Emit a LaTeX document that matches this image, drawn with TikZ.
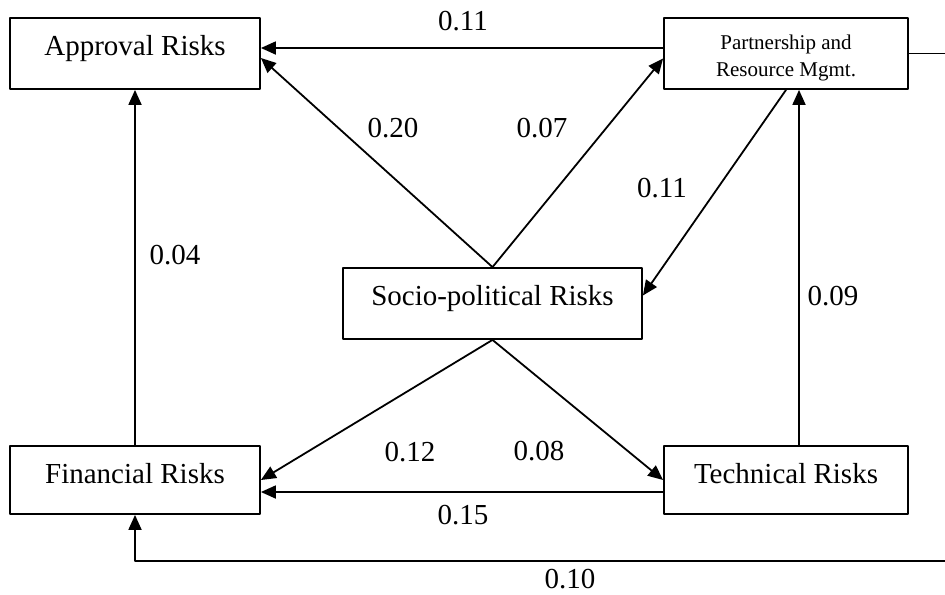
\documentclass[tikz,border=0pt]{standalone}
\usepackage{fontspec}
\setmainfont{Liberation Serif}
\usetikzlibrary{arrows.meta}
\begin{document}
\begin{tikzpicture}[x=0.5pt, y=-0.5pt, line join=round, font=\fontsize{14.5}{17}\selectfont,
	riskbox/.style={draw, line width=0.9pt, inner xsep=0pt, inner ysep=0pt, text height=18.5pt, text depth=17pt},
	arr/.style={line width=0.9pt, -{Triangle[length=7.5pt, width=6.5pt]}},
	wlabel/.style={inner sep=1pt}]
	\useasboundingbox (0,0) rectangle (945,594);
	% boxes
	\node[riskbox, minimum width=125pt] (appr) at (135,53.5) {Approval Risks};
	\node[riskbox, minimum width=122pt, align=center, text height=29pt, text depth=6.5pt,
		font=\fontsize{10.5}{13.3}\selectfont] (pm) at (786,53.5) {Partnership and\\Resource Mgmt.};
	\node[riskbox, minimum width=149.5pt] (soc) at (492.5,303.5) {Socio-political Risks};
	\node[riskbox, minimum width=125pt, text depth=15.5pt] (fin) at (135,480) {Financial Risks};
	\node[riskbox, minimum width=122pt, text depth=15.5pt] (tech) at (786,480) {Technical Risks};
	\coordinate (rt) at (945,54);
	\coordinate (rb) at (945,561);
	% connectors
	\draw[arr] ([yshift=2.75pt]pm.west) -- ([yshift=2.75pt]appr.east);
	\draw[arr] (soc.north) -- ([yshift=-2.25pt]appr.east);
	\draw[arr] (soc.north) -- ([yshift=-2.5pt]pm.west);
	\draw[arr] (pm.south) -- ([yshift=4pt]soc.east);
	\draw[arr] ([xshift=6.5pt]tech.north) -- ([xshift=6.5pt]pm.south);
	\draw[arr] (soc.south) -- (fin.east);
	\draw[arr] (soc.south) -- (tech.west);
	\draw[arr] ([yshift=-6pt]tech.west) -- ([yshift=-6pt]fin.east);
	\draw[arr] (fin.north) -- (appr.south);
	\draw[line width=0.9pt] (pm.east) -- (pm.east -| rt);
	\draw[arr] (rb) -| (fin.south);
	% weights
	\node[wlabel] (w1) at (463,21) {0.11};
	\node[wlabel] (w2) at (393,128) {0.20};
	\node[wlabel] (w3) at (542,128) {0.07};
	\node[wlabel] (w4) at (662,188) {0.11};
	\node[wlabel] (w5) at (175,255) {0.04};
	\node[wlabel] (w6) at (833,296) {0.09};
	\node[wlabel] (w7) at (410,452) {0.12};
	\node[wlabel] (w8) at (539,451) {0.08};
	\node[wlabel] (w9) at (463,515) {0.15};
	\node[wlabel] (w10) at (570,579) {0.10};
\end{tikzpicture}
\end{document}
